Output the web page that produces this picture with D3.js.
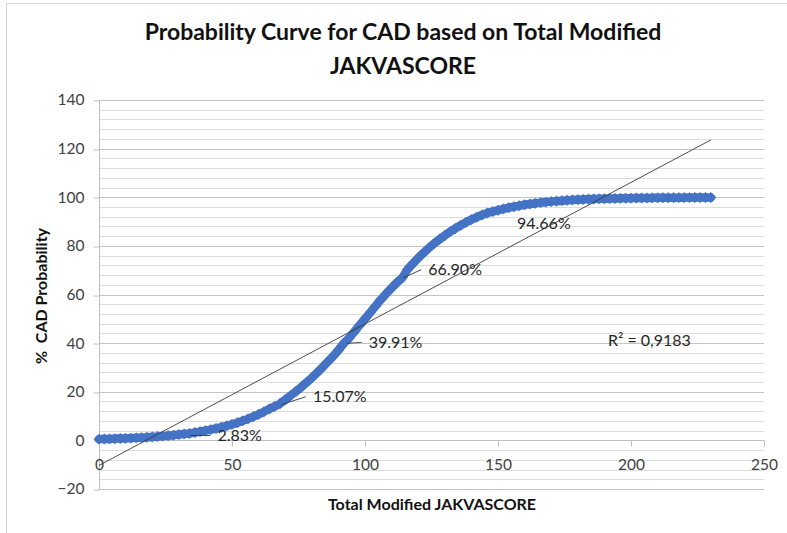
<!DOCTYPE html>
<html>
<head>
<meta charset="utf-8">
<script src="https://cdn.jsdelivr.net/npm/d3@7"></script>
<style>
  body { margin: 0; background: #ffffff; }
  svg { display: block; }
  text { font-family: Lato, "Noto Sans", sans-serif; }
</style>
</head>
<body>
<svg id="chart" width="787" height="533"></svg>
<script>
// Total Modified JAKVASCORE (x) and predicted CAD probability in % (y)
const scores = [
  0, 2, 4, 6, 8, 10, 12, 14, 16, 18, 20, 22, 24, 26, 28, 30, 32, 34, 36, 38,
  40, 42, 44, 46, 48, 50, 52, 54, 56, 58, 60, 62, 64, 66, 68, 70, 72, 74, 76, 78,
  80, 82, 84, 86, 88, 90, 92, 94, 96, 98, 100, 102, 104, 106, 108, 110, 112, 114, 116, 118,
  120, 122, 124, 126, 128, 130, 132, 134, 136, 138, 140, 142, 144, 146, 148, 150, 152, 154, 156, 158,
  160, 162, 164, 166, 168, 170, 172, 174, 176, 178, 180, 182, 184, 186, 188, 190, 192, 194, 196, 198,
  200, 202, 204, 206, 208, 210, 212, 214, 216, 218, 220, 222, 224, 226, 228, 230
];
const probabilities = [
  0.50, 0.55, 0.61, 0.68, 0.76, 0.84, 0.93, 1.04, 1.15, 1.28, 1.42, 1.58, 1.75, 1.94, 2.15, 2.39, 2.62, 2.83, 3.22, 3.60,
  3.99, 4.42, 4.89, 5.41, 5.97, 6.60, 7.28, 8.03, 8.85, 9.75, 10.72, 11.77, 12.92, 13.96, 15.07, 16.70, 18.40, 20.10, 21.90, 23.80,
  25.70, 27.80, 30.00, 32.30, 34.60, 37.10, 39.91, 42.10, 44.70, 47.40, 50.00, 52.60, 55.30, 57.90, 60.40, 62.70, 64.90, 66.90, 70.30, 72.70,
  75.00, 77.10, 79.10, 81.00, 82.70, 84.30, 85.80, 87.20, 88.50, 89.70, 90.80, 91.80, 92.70, 93.50, 94.10, 94.66, 95.20, 95.70, 96.10, 96.50,
  96.90, 97.20, 97.50, 97.80, 98.00, 98.20, 98.40, 98.60, 98.75, 98.90, 99.00, 99.10, 99.20, 99.30, 99.35, 99.40, 99.45, 99.50, 99.55, 99.60,
  99.63, 99.66, 99.69, 99.72, 99.74, 99.76, 99.78, 99.80, 99.82, 99.84, 99.85, 99.86, 99.87, 99.88, 99.89, 99.90
];

// Points carrying a value label
const labelScores = [34, 68, 92, 114, 150];
const labelValues = [2.83, 15.07, 39.91, 66.90, 94.66];

// Linear trendline
const trendIntercept = -10.3;
const trendSlope = 0.582;
const trendRange = [0, 230];
const trendR2Text = "R\u00B2 = 0,9183";

// Axes
const xTicks = [0, 50, 100, 150, 200, 250];
const yTicks = [-20, 0, 20, 40, 60, 80, 100, 120, 140];
const yMinorStep = 4;

const titleLines = ["Probability Curve for CAD based on Total Modified", "JAKVASCORE"];
const xTitle = "Total Modified JAKVASCORE";
const yTitle = "%  CAD Probability";

const svg = d3.select("#chart");
const W = 787, H = 533;
const plot = { left: 99, right: 764, top: 100, bottom: 489 };

const x = d3.scaleLinear().domain([0, 250]).range([plot.left, plot.right]);
const y = d3.scaleLinear().domain([-20, 140]).range([plot.bottom, plot.top]);
const crisp = v => Math.round(v) + 0.5;

// outer chart frame
svg.append("rect")
  .attr("x", 6.5).attr("y", 3.5).attr("width", W + 10).attr("height", H + 10)
  .attr("fill", "#ffffff").attr("stroke", "#d4d4d4").attr("stroke-width", 1);

// title
svg.append("g").selectAll("text").data(titleLines).join("text")
  .attr("x", 403).attr("y", (d, i) => 40 + i * 34)
  .attr("text-anchor", "middle")
  .attr("font-size", 23).attr("font-weight", 700).attr("fill", "#111111")
  .text(d => d);

// horizontal gridlines (minor every 4, major every 20)
const gridVals = d3.range(-20, 140 + 0.001, yMinorStep);
svg.append("g").selectAll("line").data(gridVals).join("line")
  .attr("x1", plot.left).attr("x2", plot.right)
  .attr("y1", d => crisp(y(d))).attr("y2", d => crisp(y(d)))
  .attr("stroke", d => (d % 20 === 0 ? "#c4c4c4" : "#dddddd"))
  .attr("stroke-width", 1);

// y axis
const yAxis = d3.axisLeft(y).tickValues(yTicks).tickSize(6).tickPadding(9).tickFormat(d3.format("d"));
const gy = svg.append("g").attr("transform", `translate(${crisp(plot.left)},0)`).call(yAxis);
gy.select(".domain").attr("stroke", "#bfbfbf").attr("d", `M0,${y(140)}V${y(-20)}`);
gy.selectAll(".tick line").attr("stroke", "#bfbfbf").attr("transform", d => `translate(0,${crisp(y(d)) - y(d)})`);
gy.selectAll(".tick text").attr("font-size", 15.5).attr("fill", "#404040")
  .attr("font-family", "Lato, 'Noto Sans', sans-serif");

// x axis on the zero line
const xAxis = d3.axisBottom(x).tickValues(xTicks).tickSize(6).tickPadding(12).tickFormat(d3.format("d"));
const gx = svg.append("g").attr("transform", `translate(0,${crisp(y(0))})`).call(xAxis);
gx.select(".domain").attr("stroke", "#bfbfbf").attr("d", `M${plot.left},0H${plot.right}`);
gx.selectAll(".tick line").attr("stroke", "#bfbfbf");
gx.selectAll(".tick text").attr("font-size", 15.5).attr("fill", "#404040")
  .attr("font-family", "Lato, 'Noto Sans', sans-serif");

// axis titles
svg.append("text")
  .attr("x", 432).attr("y", 510).attr("text-anchor", "middle")
  .attr("font-size", 16).attr("font-weight", 700).attr("fill", "#111111")
  .text(xTitle);
svg.append("text")
  .attr("transform", "translate(47,296) rotate(-90)").attr("text-anchor", "middle")
  .attr("font-size", 16).attr("font-weight", 700).attr("fill", "#111111")
  .style("white-space", "pre")
  .text(yTitle);

// probability series: dense diamond markers
const series = scores.map((s, i) => ({ s, p: probabilities[i] }));
const blue = "#4472c4";
svg.append("path")
  .datum(series)
  .attr("fill", "none").attr("stroke", blue).attr("stroke-width", 8.5)
  .attr("stroke-linejoin", "round").attr("stroke-linecap", "round")
  .attr("d", d3.line().x(d => x(d.s)).y(d => y(d.p)).curve(d3.curveMonotoneX));
const diamond = "M0,-5.2L5.2,0L0,5.2L-5.2,0Z";
svg.append("g").selectAll("path").data(series).join("path")
  .attr("d", diamond)
  .attr("transform", d => `translate(${x(d.s)},${y(d.p)})`)
  .attr("fill", blue).attr("stroke", blue).attr("stroke-width", 0.6);

// linear trendline
svg.append("line")
  .attr("x1", x(trendRange[0])).attr("y1", y(trendIntercept + trendSlope * trendRange[0]))
  .attr("x2", x(trendRange[1])).attr("y2", y(trendIntercept + trendSlope * trendRange[1]))
  .attr("stroke", "#3a3a3a").attr("stroke-width", 0.9);

// data labels with leader lines
const labelPlacement = [
  { dx: 28, dy: 2, lx: 1, ly: 2, leader: true },
  { dx: 33, dy: -7, lx: 1, ly: 1, leader: true },
  { dx: 25, dy: -1, lx: 3, ly: 0, leader: true },
  { dx: 26, dy: -8, lx: 1, ly: 0, leader: true },
  { dx: 19, dy: 13, lx: 0, ly: 0, leader: false }
];
const labels = labelScores.map((s, i) => ({ s, v: labelValues[i], ...labelPlacement[i] }));
const gl = svg.append("g");
labels.forEach(d => {
  const px = x(d.s), py = y(d.v);
  const tx = px + d.dx, ty = py + d.dy;
  if (d.leader) {
    gl.append("line")
      .attr("x1", px + d.lx).attr("y1", py + d.ly)
      .attr("x2", tx - 7).attr("y2", ty)
      .attr("stroke", "#3a3a3a").attr("stroke-width", 0.9);
  }
  gl.append("text")
    .attr("x", tx).attr("y", ty).attr("dy", "0.35em")
    .attr("font-size", 16).attr("fill", "#262626")
    .text(d.v.toFixed(2) + "%");
});

// trendline R² label
svg.append("text")
  .attr("x", 608).attr("y", 340).attr("dy", "0.35em")
  .attr("font-size", 16).attr("fill", "#262626")
  .text(trendR2Text);
</script>
</body>
</html>
